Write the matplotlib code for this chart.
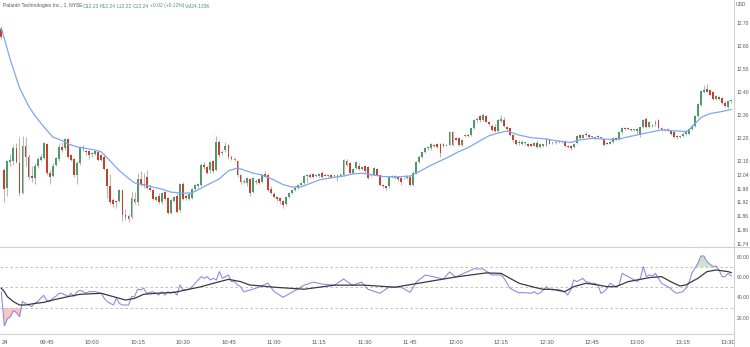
import numpy as np
import matplotlib
matplotlib.use("Agg")
import matplotlib.pyplot as plt
from matplotlib.lines import Line2D
from matplotlib.patches import Rectangle

plt.rcParams['font.family'] = ['Liberation Sans', 'DejaVu Sans']

# 1-minute candles, PLTR, from 09:30 (first bar is the prior close)
opens = [
    12.675, 12.06, 11.985, 12.095, 12.10, 12.155, 12.09, 11.96, 12.165, 12.12,
    12.035, 12.025, 12.08, 12.105, 12.115, 12.175, 12.05, 12.035, 12.085, 12.11,
    12.16, 12.155, 12.195, 12.125, 12.11, 12.04, 12.09, 12.155, 12.145, 12.145,
    12.13, 12.13, 12.14, 12.125, 12.12, 12.065, 11.99, 11.93, 11.925, 11.925,
    11.975, 11.865, 11.86, 11.855, 11.935, 11.92, 12.02, 12.00, 12.03, 11.985,
    11.975, 11.93, 11.95, 11.92, 11.965, 11.94, 11.875, 11.925, 11.95, 11.885,
    12.00, 11.95, 11.935, 11.94, 11.98, 11.99, 11.995, 12.085, 12.075, 12.06,
    12.10, 12.06, 12.185, 12.135, 12.15, 12.17, 12.12, 12.11, 12.10, 12.04,
    12.01, 12.005, 12.02, 11.965, 12.01, 12.02, 12.01, 12.045, 12.04, 11.98,
    11.955, 11.945, 11.94, 11.925, 11.915, 11.945, 11.96, 11.975, 11.985, 11.995,
    12.005, 12.035, 12.04, 12.045, 12.035, 12.035, 12.05, 12.04, 12.035, 12.04,
    12.035, 12.025, 12.03, 12.04, 12.10, 12.09, 12.05, 12.07, 12.08, 12.065,
    12.08, 12.075, 12.04, 12.04, 12.065, 12.04, 11.995, 11.99, 11.99, 12.03,
    12.025, 12.03, 12.025, 12.025, 12.025, 12.03, 11.995, 12.05, 12.095, 12.12,
    12.14, 12.155, 12.155, 12.17, 12.175, 12.175, 12.175, 12.165, 12.17, 12.225,
    12.20, 12.20, 12.17, 12.21, 12.215, 12.215, 12.245, 12.28, 12.295, 12.28,
    12.295, 12.27, 12.255, 12.25, 12.23, 12.275, 12.28, 12.25, 12.245, 12.215,
    12.19, 12.18, 12.175, 12.18, 12.175, 12.175, 12.165, 12.18, 12.16, 12.165,
    12.165, 12.19, 12.18, 12.18, 12.185, 12.185, 12.185, 12.165, 12.165, 12.16,
    12.18, 12.215, 12.20, 12.22, 12.215, 12.205, 12.20, 12.21, 12.20, 12.195,
    12.18, 12.175, 12.185, 12.20, 12.195, 12.225, 12.245, 12.245, 12.24, 12.235,
    12.23, 12.215, 12.25, 12.285, 12.25, 12.255, 12.26, 12.28, 12.245, 12.235,
    12.235, 12.23, 12.225, 12.21, 12.205, 12.21, 12.22, 12.22, 12.24, 12.255,
    12.295, 12.345, 12.40, 12.415, 12.41, 12.40, 12.37, 12.38, 12.375, 12.355,
    12.335, 12.36,
]
highs = [
    12.69, 12.07, 12.105, 12.13, 12.17, 12.18, 12.205, 12.21, 12.205, 12.13,
    12.08, 12.09, 12.12, 12.13, 12.185, 12.18, 12.06, 12.09, 12.12, 12.18,
    12.185, 12.20, 12.20, 12.13, 12.115, 12.10, 12.165, 12.17, 12.15, 12.15,
    12.14, 12.15, 12.15, 12.13, 12.13, 12.07, 12.045, 11.94, 11.93, 11.98,
    11.98, 11.89, 11.87, 11.965, 11.965, 12.05, 12.055, 12.05, 12.06, 12.00,
    11.98, 11.95, 11.96, 11.965, 11.97, 11.945, 11.935, 11.95, 11.96, 12.005,
    12.01, 11.955, 11.965, 11.985, 12.00, 12.005, 12.09, 12.095, 12.08, 12.10,
    12.105, 12.21, 12.19, 12.15, 12.185, 12.175, 12.125, 12.12, 12.105, 12.045,
    12.02, 12.03, 12.025, 12.03, 12.02, 12.025, 12.045, 12.055, 12.045, 11.99,
    11.965, 11.95, 11.945, 11.93, 11.95, 11.965, 11.98, 11.99, 12.00, 12.01,
    12.04, 12.045, 12.05, 12.05, 12.045, 12.05, 12.055, 12.045, 12.045, 12.045,
    12.04, 12.045, 12.045, 12.11, 12.11, 12.095, 12.07, 12.10, 12.09, 12.08,
    12.085, 12.08, 12.05, 12.075, 12.07, 12.045, 12.00, 11.99, 12.03, 12.04,
    12.04, 12.035, 12.03, 12.03, 12.04, 12.035, 12.055, 12.10, 12.125, 12.145,
    12.16, 12.165, 12.18, 12.175, 12.18, 12.18, 12.18, 12.175, 12.23, 12.23,
    12.205, 12.205, 12.195, 12.22, 12.22, 12.245, 12.285, 12.29, 12.30, 12.31,
    12.30, 12.275, 12.26, 12.26, 12.285, 12.30, 12.29, 12.255, 12.245, 12.22,
    12.19, 12.19, 12.19, 12.185, 12.18, 12.18, 12.185, 12.19, 12.18, 12.175,
    12.20, 12.195, 12.185, 12.19, 12.19, 12.19, 12.19, 12.17, 12.17, 12.18,
    12.215, 12.22, 12.22, 12.225, 12.22, 12.21, 12.21, 12.215, 12.205, 12.195,
    12.185, 12.19, 12.205, 12.205, 12.23, 12.25, 12.25, 12.25, 12.24, 12.24,
    12.245, 12.25, 12.285, 12.29, 12.275, 12.26, 12.28, 12.285, 12.25, 12.24,
    12.24, 12.235, 12.23, 12.215, 12.215, 12.225, 12.23, 12.245, 12.26, 12.30,
    12.355, 12.41, 12.43, 12.435, 12.415, 12.405, 12.39, 12.385, 12.38, 12.36,
    12.365, 12.365,
]
lows = [
    12.63, 11.92, 11.95, 12.08, 12.085, 12.09, 11.95, 11.955, 12.08, 12.02,
    12.01, 12.00, 12.07, 12.10, 12.11, 12.04, 12.00, 12.03, 12.08, 12.10,
    12.14, 12.15, 12.115, 12.10, 12.03, 12.00, 12.085, 12.145, 12.125, 12.11,
    12.12, 12.125, 12.10, 12.10, 12.06, 11.94, 11.915, 11.90, 11.895, 11.92,
    11.84, 11.845, 11.835, 11.85, 11.915, 11.91, 11.99, 11.985, 11.98, 11.97,
    11.93, 11.925, 11.915, 11.915, 11.93, 11.87, 11.87, 11.92, 11.875, 11.88,
    11.93, 11.93, 11.93, 11.935, 11.97, 11.985, 11.99, 12.065, 12.045, 12.05,
    12.05, 12.055, 12.12, 12.125, 12.14, 12.11, 12.105, 12.10, 12.03, 12.00,
    12.00, 11.99, 11.95, 11.96, 12.00, 12.00, 12.005, 12.03, 11.97, 11.955,
    11.94, 11.925, 11.915, 11.895, 11.91, 11.94, 11.955, 11.97, 11.98, 11.99,
    12.00, 12.01, 12.025, 12.025, 12.03, 12.03, 12.025, 12.035, 12.03, 12.025,
    12.03, 12.015, 12.03, 12.035, 12.08, 12.045, 12.045, 12.065, 12.06, 12.06,
    12.05, 12.02, 12.035, 12.04, 12.04, 11.99, 11.985, 11.975, 11.985, 12.025,
    12.02, 12.015, 11.995, 12.02, 12.02, 11.99, 11.99, 12.045, 12.09, 12.115,
    12.135, 12.15, 12.15, 12.16, 12.155, 12.12, 12.16, 12.165, 12.165, 12.165,
    12.19, 12.165, 12.165, 12.205, 12.205, 12.21, 12.24, 12.27, 12.27, 12.275,
    12.27, 12.255, 12.23, 12.225, 12.225, 12.27, 12.25, 12.235, 12.21, 12.185,
    12.17, 12.17, 12.17, 12.17, 12.16, 12.16, 12.165, 12.155, 12.155, 12.16,
    12.165, 12.175, 12.175, 12.175, 12.18, 12.18, 12.16, 12.155, 12.15, 12.155,
    12.175, 12.195, 12.20, 12.21, 12.20, 12.20, 12.195, 12.20, 12.195, 12.165,
    12.175, 12.175, 12.18, 12.19, 12.19, 12.22, 12.235, 12.235, 12.23, 12.23,
    12.22, 12.205, 12.245, 12.245, 12.245, 12.25, 12.255, 12.24, 12.23, 12.23,
    12.23, 12.215, 12.20, 12.195, 12.20, 12.205, 12.215, 12.22, 12.235, 12.25,
    12.29, 12.34, 12.395, 12.40, 12.39, 12.365, 12.365, 12.365, 12.35, 12.335,
    12.33, 12.355,
]
closes = [
    12.64, 11.98, 12.10, 12.105, 12.155, 12.095, 11.96, 12.165, 12.12, 12.03,
    12.025, 12.08, 12.11, 12.12, 12.18, 12.05, 12.03, 12.08, 12.115, 12.16,
    12.15, 12.195, 12.12, 12.105, 12.04, 12.09, 12.16, 12.16, 12.14, 12.125,
    12.135, 12.145, 12.105, 12.105, 12.065, 11.99, 11.92, 11.915, 11.92, 11.975,
    11.865, 11.855, 11.85, 11.94, 11.92, 12.02, 12.00, 11.995, 11.985, 11.975,
    11.935, 11.945, 11.92, 11.96, 11.935, 11.875, 11.93, 11.945, 11.88, 12.00,
    11.935, 11.94, 11.955, 11.98, 11.995, 12.00, 12.085, 12.075, 12.05, 12.095,
    12.055, 12.185, 12.125, 12.14, 12.165, 12.12, 12.11, 12.105, 12.04, 12.01,
    12.015, 12.025, 11.96, 12.025, 12.015, 12.005, 12.04, 12.03, 11.975, 11.96,
    11.945, 11.935, 11.925, 11.91, 11.945, 11.96, 11.975, 11.985, 11.995, 12.005,
    12.035, 12.04, 12.03, 12.03, 12.04, 12.045, 12.03, 12.035, 12.04, 12.03,
    12.035, 12.04, 12.045, 12.105, 12.085, 12.05, 12.065, 12.095, 12.065, 12.075,
    12.055, 12.025, 12.04, 12.07, 12.04, 11.995, 11.99, 11.985, 12.03, 12.03,
    12.035, 12.02, 12.01, 12.025, 12.035, 11.995, 12.05, 12.095, 12.12, 12.14,
    12.155, 12.16, 12.175, 12.165, 12.16, 12.135, 12.165, 12.17, 12.225, 12.17,
    12.19, 12.17, 12.19, 12.215, 12.21, 12.245, 12.28, 12.285, 12.28, 12.30,
    12.27, 12.26, 12.235, 12.23, 12.28, 12.285, 12.255, 12.24, 12.215, 12.19,
    12.175, 12.18, 12.185, 12.18, 12.165, 12.165, 12.18, 12.16, 12.175, 12.175,
    12.195, 12.175, 12.18, 12.185, 12.185, 12.185, 12.165, 12.16, 12.155, 12.175,
    12.21, 12.20, 12.215, 12.215, 12.205, 12.205, 12.205, 12.205, 12.205, 12.17,
    12.175, 12.185, 12.20, 12.19, 12.225, 12.245, 12.24, 12.24, 12.235, 12.235,
    12.24, 12.25, 12.28, 12.25, 12.27, 12.255, 12.27, 12.245, 12.235, 12.235,
    12.235, 12.22, 12.205, 12.205, 12.21, 12.22, 12.23, 12.24, 12.255, 12.295,
    12.35, 12.405, 12.41, 12.40, 12.39, 12.37, 12.385, 12.37, 12.355, 12.34,
    12.36, 12.365,
]

# moving average on price (bar index, value)
ma_idx = [0, 3, 6, 9, 11, 14, 17, 20, 22, 25, 28, 31, 33, 36, 39, 42, 44, 49,
          53, 56, 60, 63, 66, 69, 72, 75, 78, 80, 83, 86, 90, 93, 96, 99, 102,
          105, 110, 113, 116, 119, 123, 126, 130, 135, 138, 141, 144, 148, 151,
          154, 158, 161, 164, 167, 171, 175, 180, 184, 188, 191, 195, 199, 203,
          206, 210, 215, 218, 222, 226, 227, 229, 231, 234, 238, 241]
ma_val = [12.68, 12.54, 12.42, 12.34, 12.30, 12.25, 12.205, 12.19, 12.175,
          12.162, 12.155, 12.148, 12.14, 12.10, 12.058, 12.025, 12.005, 11.99,
          11.978, 11.965, 11.96, 11.962, 11.982, 12.003, 12.023, 12.058, 12.07,
          12.062, 12.048, 12.04, 12.018, 11.998, 11.987, 11.988, 12.003, 12.018,
          12.03, 12.035, 12.044, 12.047, 12.039, 12.033, 12.031, 12.035, 12.054,
          12.076, 12.095, 12.12, 12.141, 12.158, 12.188, 12.21, 12.222, 12.231,
          12.213, 12.202, 12.196, 12.187, 12.181, 12.192, 12.199, 12.196, 12.193,
          12.203, 12.214, 12.228, 12.236, 12.232, 12.229, 12.235, 12.262, 12.29,
          12.307, 12.316, 12.325]

# RSI and its moving average (bar index, value)
rsi_idx = [0, 1, 2, 3, 4, 5, 6, 7, 8, 9, 10, 11, 12, 13, 14, 15, 16, 17, 18,
           19, 20, 22, 23, 24, 25, 26, 27, 28, 29, 31, 33, 34, 35, 36, 37, 38,
           39, 40, 42, 43, 44, 45, 46, 47, 48, 50, 52, 53, 54, 55, 56, 57, 58,
           59, 60, 62, 63, 64, 66, 67, 68, 69, 70, 71, 72, 73, 74, 75, 76, 77,
           78, 79, 80, 82, 85, 88, 90, 93, 96, 100, 103, 106, 110, 113, 116,
           119, 121, 125, 128, 132, 135, 137, 140, 143, 146, 148, 150, 153,
           156, 159, 162, 165, 166, 167, 168, 170, 171, 173, 175, 176, 177,
           178, 180, 181, 182, 184, 186, 187, 188, 189, 190, 192, 193, 195,
           196, 197, 198, 199, 200, 201, 203, 204, 205, 206, 207, 208, 210,
           211, 212, 213, 214, 215, 216, 218, 219, 220, 221, 222, 223, 225,
           226, 227, 228, 230, 231, 232, 233, 235, 236, 237, 238, 239, 240, 241]
rsi_val = [45, 12, 19, 21, 27, 25, 21, 36, 34, 32.5, 31, 34, 36, 39, 42, 37,
           36, 39, 41, 44, 44, 41, 44, 41, 45.6, 47, 45.6, 44, 45.6, 45.6, 44,
           39, 35.8, 34, 32.5, 39, 34, 32.5, 32.5, 40.7, 40.7, 48, 47.3, 49,
           44, 45.6, 42.3, 45.6, 42.3, 45.6, 44, 45.6, 42.3, 52.2, 47.3, 48,
           50.5, 53.8, 60.4, 58.7, 60.4, 57.1, 58.7, 57.1, 65.3, 58.7, 60.4,
           62, 55.5, 55.5, 52.2, 50.5, 45.6, 47, 50, 54, 46, 40, 45, 52, 55,
           53, 52, 58, 52, 55, 48, 44, 50, 50, 45, 55, 62, 60, 58, 65, 60, 64,
           68, 68, 62, 62, 58.7, 53.8, 48.9, 45.6, 44.6, 44.6, 44, 45.6, 43.3,
           44.6, 50.5, 47.9, 47.3, 47.9, 45.6, 42.3, 47.3, 57.1, 55.5, 58.7,
           55.5, 53.8, 53.8, 52.2, 44, 45.6, 48.9, 53.8, 50.5, 52.2, 63.6, 62,
           60.4, 58.7, 55.5, 58.7, 70.2, 60.4, 62, 61, 63.6, 53.8, 52.2, 50.5,
           48.9, 45.6, 44, 45.6, 48.9, 53.8, 63.6, 73.5, 80.7, 80.7, 75.1,
           70.2, 70.9, 66.9, 60.4, 60.4, 63.6, 61]
rsi_ma_idx = [0, 1, 2, 4, 6, 8, 11, 14, 17, 22, 26, 33, 37, 41, 44, 47, 51,
              57, 61, 66, 70, 75, 79, 82, 90, 100, 110, 120, 130, 140, 150,
              160, 165, 168, 171, 176, 179, 182, 186, 189, 193, 197, 200, 203,
              207, 211, 214, 218, 221, 224, 226, 230, 233, 236, 240, 241]
rsi_ma_val = [49, 45.6, 40.7, 35.8, 32.5, 32.5, 34, 35.1, 37.4, 40.7, 43, 44,
              40.7, 37.4, 39, 43, 44, 44.9, 47.3, 50.5, 53.8, 57.7, 55.5, 52.2,
              50, 48, 52, 52, 50, 55, 60, 64, 63.6, 58.7, 53.8, 49.9, 47.9, 47.9,
              45.6, 50.5, 53.8, 52.2, 50.5, 50.5, 55.5, 57.7, 59.4, 60.4, 55.5,
              51.2, 52.2, 58.7, 65.3, 66.9, 65.3, 64.3]

price_ticks = [12.70, 12.60, 12.50, 12.40, 12.30, 12.20, 12.10, 12.04, 11.98,
               11.92, 11.86, 11.80, 11.74]
rsi_ticks = [80, 60, 40, 20]
time_idx = [0, 15, 30, 45, 60, 75, 90, 105, 120, 135, 150, 165, 180, 195, 210,
            225, 240]
time_labels = ["24", "09:45", "10:00", "10:15", "10:30", "10:45", "11:00",
               "11:15", "11:30", "11:45", "12:00", "12:15", "12:30", "12:45",
               "13:00", "13:15", "13:30"]

# header line: title, then quote fields
title = "Palantir Technologies Inc., 1, NYSE"
quote_fields = ["O12.23", "H12.24", "L12.22", "C12.24", "+0.02 (+0.12%)",
                "Vol24.133K"]
quote_px = [83, 100, 117, 133, 150, 185]

UP = "#4e9a6b"
DOWN = "#c4402f"
WICK = "#b8b8b8"
TXT = "#555555"
EDGE = "#d0d0d0"
FS = 4.2
FS_SCALE = 3.6
FS_HEAD = 3.6

W, H = 750, 347
fig = plt.figure(figsize=(W / 100, H / 100), dpi=100)
fig.patch.set_facecolor("white")

right = 734 / W
pane_split = 1 - 247 / H
bottom = 1 - 334 / H
ax = fig.add_axes([0, pane_split, right, 1 - pane_split])
ax_rsi = fig.add_axes([0, bottom, right, pane_split - bottom])

o = np.array(opens)
h = np.array(highs)
l = np.array(lows)
c = np.array(closes)
x = np.arange(len(c))
up = c >= o

ax.vlines(x, l, h, color=WICK, lw=0.8, zorder=2)
body_lo = np.minimum(o, c)
body_h = np.maximum(np.abs(c - o), 0.003)
ax.bar(x, body_h, bottom=body_lo, width=0.62,
       color=np.where(up, UP, DOWN), linewidth=0, zorder=3)
ax.plot(ma_idx, ma_val, color="#7ea6f5", lw=0.9, zorder=4)

ax.set_xlim(-0.43, 241.93)
ax.set_ylim(11.726, 12.8015)
ax.set_yticks(price_ticks)
ax.set_yticklabels([f"{t:.2f}" for t in price_ticks])
ax.yaxis.tick_right()
ax.tick_params(axis="y", length=0, pad=2, labelsize=FS_SCALE, labelcolor=TXT)
ax.set_xticks([])
for s in ax.spines.values():
    s.set_visible(False)

# RSI pane
rsi_x = np.array(rsi_idx, dtype=float)
rsi_y = np.array(rsi_val, dtype=float)
for lvl in (70, 50, 30):
    ax_rsi.axhline(lvl, color="#b5b5b5", lw=0.6, ls=(0, (3, 3)), zorder=1)
ax_rsi.fill_between(rsi_x, 70, rsi_y, where=rsi_y > 70, interpolate=True,
                    color="#9ccf9f", alpha=0.55, lw=0, zorder=2)
ax_rsi.fill_between(rsi_x, 30, rsi_y, where=rsi_y < 30, interpolate=True,
                    color="#f2a0a0", alpha=0.6, lw=0, zorder=2)
ax_rsi.plot(rsi_x, rsi_y, color="#9a86e6", lw=0.8, zorder=3)
ax_rsi.plot(rsi_ma_idx, rsi_ma_val, color="#3a3a3a", lw=0.9, zorder=4)

ax_rsi.set_xlim(-0.43, 241.93)
ax_rsi.set_ylim(4.0, 89.5)
ax_rsi.set_yticks(rsi_ticks)
ax_rsi.set_yticklabels([f"{t:.2f}" for t in rsi_ticks])
ax_rsi.yaxis.tick_right()
ax_rsi.tick_params(axis="y", length=0, pad=2, labelsize=FS_SCALE, labelcolor=TXT)
ax_rsi.set_xticks(time_idx)
ax_rsi.set_xticklabels(time_labels)
ax_rsi.tick_params(axis="x", length=0, pad=4, labelsize=FS, labelcolor=TXT)
ax_rsi.get_xticklabels()[0].set_horizontalalignment("left")
for s in ax_rsi.spines.values():
    s.set_visible(False)

# pane borders and the price-scale strip
fig.add_artist(Rectangle((right, 0), 1 - right, bottom, transform=fig.transFigure,
                         facecolor="white", edgecolor="none", zorder=10))
fig.add_artist(Line2D([0, 1], [pane_split, pane_split], transform=fig.transFigure,
                      color=EDGE, lw=0.8, zorder=11))
fig.add_artist(Line2D([0, right], [bottom, bottom], transform=fig.transFigure,
                      color=EDGE, lw=0.8, zorder=11))
fig.add_artist(Line2D([right, right], [0, 1], transform=fig.transFigure,
                      color=EDGE, lw=0.8, zorder=11))

fig.text(736 / W, 1 - 5 / H, "USD", fontsize=FS_SCALE, color=TXT, va="center")
fig.text(3 / W, 1 - 6 / H, title, fontsize=FS_HEAD, color=TXT, va="center")
for field, px in zip(quote_fields, quote_px):
    fig.text(px / W, 1 - 6 / H, field, fontsize=FS_HEAD, color=UP, va="center")

fig.savefig("out.png", dpi=100, facecolor="white")
